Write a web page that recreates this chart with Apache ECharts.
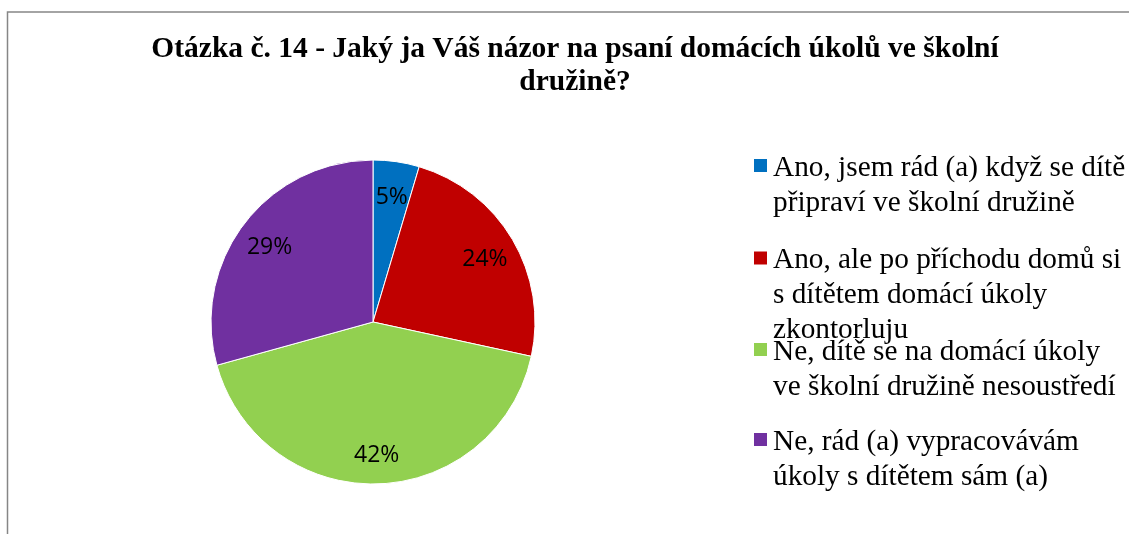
<!DOCTYPE html>
<html>
<head>
<meta charset="utf-8">
<script src="https://cdn.jsdelivr.net/npm/echarts@6/dist/echarts.min.js"></script>
<style>
  html, body { margin: 0; padding: 0; background: #fff; }
  #chart { width: 1129px; height: 534px; }
</style>
</head>
<body>
<div id="chart"></div>
<script>
// odpovědi a podíly (v %)
const categories = [
  'Ano, jsem rád (a) když se dítě připraví ve školní družině',
  'Ano, ale po příchodu domů si s dítětem domácí úkoly zkontorluju',
  'Ne, dítě se na domácí úkoly ve školní družině nesoustředí',
  'Ne, rád (a) vypracovávám úkoly s dítětem sám (a)'
];
const values = [4.6, 23.8, 42.3, 29.3];
const legendLabels = [
  'Ano, jsem rád (a) když se dítě\npřipraví ve školní družině',
  'Ano, ale po příchodu domů si\ns dítětem domácí úkoly\nzkontorluju',
  'Ne, dítě se na domácí úkoly\nve školní družině nesoustředí',
  'Ne, rád (a) vypracovávám\núkoly s dítětem sám (a)'
];
const colors = ['#0070C0', '#C00000', '#92D050', '#7030A0'];

const chart = echarts.init(document.getElementById('chart'));

const pieData = categories.map((name, i) => ({
  name: name,
  value: values[i],
  itemStyle: { color: colors[i] }
}));

// legenda: každá položka zvlášť; prázdný řádek navrch posune text tak,
// aby ikona byla u prvního řádku
const LH = 35;
const SHIFT = 2.5;
const iconCenters = [165.5, 258.5, 349.5, 439.5];
const topFix = { 2: 15, 3: 32 };
const legends = categories.map((name, i) => {
  const rows = legendLabels[i].split('\n');
  const pre = (rows.length - 1) * LH + 2 * SHIFT;
  const h = pre + rows.length * LH;
  const text = '{p| }\n' + rows.map(r => '{t|' + r + '}').join('\n');
  return {
    data: [name],
    orient: 'vertical',
    left: 752,
    top: iconCenters[i] - h / 2 + topFix[rows.length],
    padding: 0,
    itemWidth: 15,
    itemHeight: 15,
    icon: 'rect',
    selectedMode: false,
    formatter: () => text,
    textStyle: {
      fontFamily: 'Liberation Serif',
      fontSize: 29.3,
      color: '#000',
      rich: {
        p: { fontSize: 10, lineHeight: pre },
        t: { fontFamily: 'Liberation Serif', fontSize: 29.3, lineHeight: LH, color: '#000' }
      }
    }
  };
});

chart.setOption({
  animation: false,
  title: {
    text: 'Otázka č. 14 - Jaký ja Váš názor na psaní domácích úkolů ve školní\ndružině?',
    left: 575,
    top: 33,
    padding: 0,
    textAlign: 'center',
    textStyle: {
      fontFamily: 'Liberation Serif',
      fontSize: 29.5,
      fontWeight: 'bold',
      lineHeight: 33,
      color: '#000'
    }
  },
  legend: legends,
  graphic: [{
    type: 'rect',
    shape: { x: 7.5, y: 12, width: 1200, height: 600 },
    style: { fill: 'none', stroke: '#868686', lineWidth: 1.5 },
    silent: true,
    z: -1
  }],
  series: [
    {
      name: 'Názor',
      type: 'pie',
      center: [373, 322],
      radius: 162,
      startAngle: 90,
      clockwise: true,
      label: { show: false },
      labelLine: { show: false },
      itemStyle: { borderColor: '#fff', borderWidth: 1 },
      data: pieData
    },
    {
      name: 'Popisky',
      type: 'pie',
      center: [373, 322],
      radius: [92, 162],
      startAngle: 90,
      clockwise: true,
      silent: true,
      legendHoverLink: false,
      percentPrecision: 0,
      itemStyle: { color: 'rgba(0,0,0,0)' },
      label: {
        show: true,
        position: 'inside',
        formatter: '{d}%',
        fontFamily: 'Open Sans',
        fontSize: 23,
        color: '#000',
        offset: [0, 4]
      },
      labelLine: { show: false },
      data: categories.map((name, i) => ({ name: name, value: values[i] }))
    }
  ]
});
</script>
</body>
</html>
